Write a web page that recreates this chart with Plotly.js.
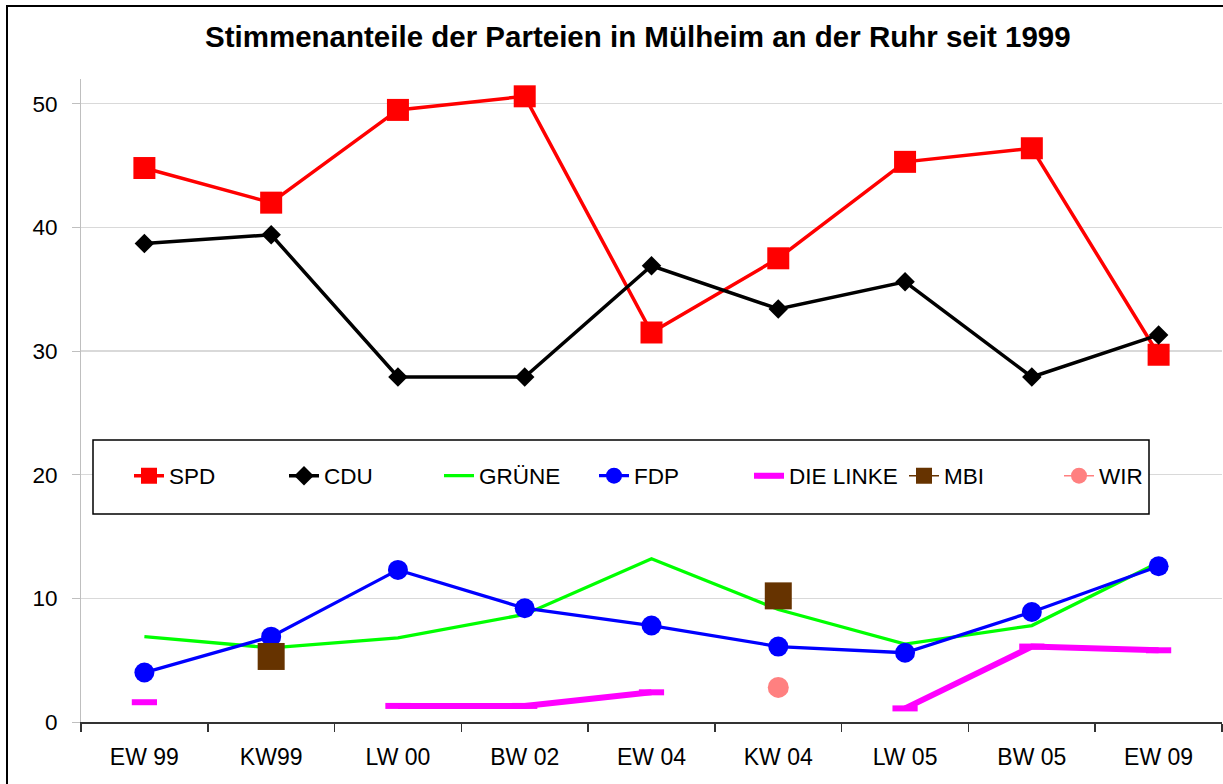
<!DOCTYPE html>
<html>
<head>
<meta charset="utf-8">
<script src="https://cdn.plot.ly/plotly-3.0.1.min.js"></script>
<style>
  html, body { margin: 0; padding: 0; background: #ffffff; }
  #chart { width: 1223px; height: 784px; }
</style>
</head>
<body>
<div id="chart"></div>
<script>
// ---- data ----
const categories = ["EW 99", "KW99", "LW 00", "BW 02", "EW 04", "KW 04", "LW 05", "BW 05", "EW 09"];
const spd       = [44.8, 42.0, 49.5, 50.6, 31.5, 37.5, 45.3, 46.4, 29.7];
const cdu       = [38.7, 39.4, 27.9, 27.9, 36.9, 33.4, 35.6, 27.9, 31.3];
const gruene    = [6.9, 6.0, 6.8, 8.7, 13.2, 9.1, 6.3, 7.8, 12.9];
const fdp       = [4.0, 6.9, 12.3, 9.2, 7.8, 6.1, 5.6, 8.9, 12.6];
const dieLinke  = [1.6, null, 1.3, 1.3, 2.4, null, 1.1, 6.1, 5.8];
const mbi       = [null, 5.3, null, null, null, 10.2, null, null, null];
const wir       = [null, null, null, null, null, 2.8, null, null, null];
const yTicks    = [0, 10, 20, 30, 40, 50];
const chartTitle = "Stimmenanteile der Parteien in Mülheim an der Ruhr seit 1999";

const FONT = '"Liberation Sans", Arial, Helvetica, sans-serif';

const traces = [
  { name: "SPD", x: categories, y: spd, type: "scatter", mode: "lines+markers",
    line: { color: "#FF0000", width: 3.5 },
    marker: { symbol: "square", size: 22, color: "#FF0000" } },
  { name: "CDU", x: categories, y: cdu, type: "scatter", mode: "lines+markers",
    line: { color: "#000000", width: 3.5 },
    marker: { symbol: "diamond", size: 15, color: "#000000" } },
  { name: "GRÜNE", x: categories, y: gruene, type: "scatter", mode: "lines",
    line: { color: "#00FF00", width: 3.3 } },
  { name: "FDP", x: categories, y: fdp, type: "scatter", mode: "lines+markers",
    line: { color: "#0000FF", width: 3.3 },
    marker: { symbol: "circle", size: 20, color: "#0000FF" } },
  { name: "DIE LINKE", x: categories, y: dieLinke, type: "scatter", mode: "lines+markers",
    connectgaps: false,
    line: { color: "#FF00FF", width: 6 },
    marker: { symbol: "line-ew", size: 18, color: "#FF00FF", line: { color: "#FF00FF", width: 6 } } },
  { name: "MBI", x: categories, y: mbi, type: "scatter", mode: "lines+markers",
    connectgaps: false,
    line: { color: "#663300", width: 1.5 },
    marker: { symbol: "square", size: 27, color: "#663300" } },
  { name: "WIR", x: categories, y: wir, type: "scatter", mode: "lines+markers",
    connectgaps: false,
    line: { color: "#FF8080", width: 1.5 },
    marker: { symbol: "circle", size: 21, color: "#FF8080" } }
];

const layout = {
  width: 1223, height: 784,
  margin: { l: 81, r: 1, t: 79, b: 62, pad: 0 },
  paper_bgcolor: "#ffffff", plot_bgcolor: "#ffffff",
  font: { family: FONT, size: 22, color: "#000000" },
  showlegend: true,
  hovermode: false,
  title: {
    text: "<b>" + chartTitle + "</b>",
    font: { family: FONT, size: 29.5, color: "#000000" },
    xref: "paper", x: 0.488, xanchor: "center",
    yref: "container", y: 1 - 37 / 784, yanchor: "middle"
  },
  xaxis: {
    type: "category", categoryorder: "array", categoryarray: categories,
    range: [-0.5, 8.5], fixedrange: true,
    showgrid: false, zeroline: false,
    showline: true, linecolor: "#333333", linewidth: 1.5,
    ticks: "outside", tickson: "boundaries", ticklen: 8, tickcolor: "#333333", tickwidth: 1.5,
    tickfont: { family: FONT, size: 23, color: "#000000" },
    ticklabelstandoff: 14
  },
  yaxis: {
    range: [0, 52], fixedrange: true,
    tickvals: yTicks, ticktext: yTicks.map(String),
    showgrid: true, gridcolor: "#d9d9d9", gridwidth: 1.2,
    zeroline: false,
    showline: true, linecolor: "#bfbfbf", linewidth: 1,
    ticks: "outside", ticklen: 8, tickcolor: "#bfbfbf",
    tickfont: { family: FONT, size: 22.5, color: "#000000" },
    ticklabelstandoff: 10
  },
  legend: {
    orientation: "h",
    xref: "paper", yref: "paper",
    x: (129 - 81) / 1141, xanchor: "left",
    y: (722 - 476) / 643, yanchor: "middle",
    bgcolor: "rgba(0,0,0,0)", borderwidth: 0,
    font: { family: FONT, size: 22.5, color: "#000000" },
    entrywidth: 110, entrywidthmode: "pixels",
    itemsizing: "trace", traceorder: "normal"
  },
  shapes: [
    // legend box
    { type: "rect", xref: "paper", yref: "paper", layer: "above",
      x0: (93 - 81) / 1141, x1: (1149 - 81) / 1141,
      y0: (722 - 514) / 643, y1: (722 - 440) / 643,
      fillcolor: "#ffffff", line: { color: "#000000", width: 1.5 } },
    // outer chart frame
    { type: "rect", xref: "paper", yref: "paper", layer: "above",
      x0: (7 - 81) / 1141, x1: 1.2,
      y0: -0.3, y1: (722 - 6) / 643,
      fillcolor: "rgba(0,0,0,0)", line: { color: "#000000", width: 2 } }
  ]
};

Plotly.newPlot("chart", traces, layout, { displayModeBar: false, staticPlot: true });
</script>
</body>
</html>
